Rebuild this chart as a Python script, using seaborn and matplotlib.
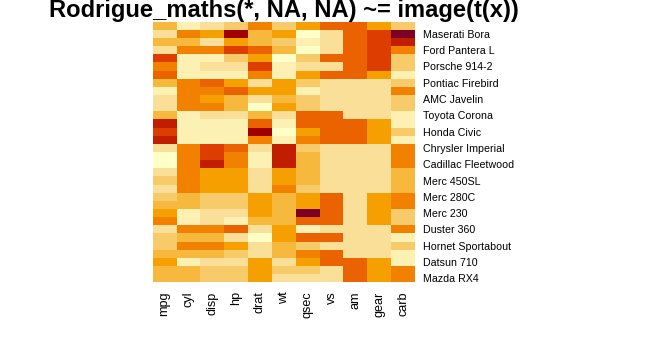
import pandas as pd
import seaborn as sns
import matplotlib.pyplot as plt
import matplotlib.transforms as mtransforms
from matplotlib.colors import ListedColormap

# Cars as they appear from the top of the image to the bottom
cars = ["Volvo 142E", "Maserati Bora", "Ferrari Dino", "Ford Pantera L", "Lotus Europa",
        "Porsche 914-2", "Fiat X1-9", "Pontiac Firebird", "Camaro Z28", "AMC Javelin",
        "Dodge Challenger", "Toyota Corona", "Toyota Corolla", "Honda Civic", "Fiat 128",
        "Chrysler Imperial", "Lincoln Continental", "Cadillac Fleetwood", "Merc 450SLC",
        "Merc 450SL", "Merc 450SE", "Merc 280C", "Merc 280", "Merc 230", "Merc 240D",
        "Duster 360", "Valiant", "Hornet Sportabout", "Hornet 4 Drive", "Datsun 710",
        "Mazda RX4 Wag", "Mazda RX4"]

variables = ["mpg", "cyl", "disp", "hp", "drat", "wt", "qsec", "vs", "am", "gear", "carb"]

# Colour level of every cell (0 = lightest yellow, 11 = darkest red), same row order as cars
mpg  = [4, 2, 4, 2, 8, 6, 7, 4, 1, 2, 2, 4, 9, 8, 9, 2, 0, 0, 2, 3, 2, 3, 4, 5, 6, 2, 3, 3, 4, 5, 4, 4]
cyl  = [1, 6, 4, 6, 1, 1, 1, 6, 6, 6, 6, 1, 1, 1, 1, 6, 6, 6, 6, 6, 6, 4, 4, 1, 1, 6, 4, 6, 4, 1, 4, 4]
disp = [2, 5, 2, 6, 1, 2, 1, 7, 6, 5, 6, 2, 1, 1, 1, 8, 8, 9, 5, 5, 5, 3, 3, 2, 2, 6, 4, 6, 4, 2, 3, 3]
hp   = [3, 10, 5, 8, 3, 2, 1, 5, 7, 4, 4, 2, 1, 1, 1, 7, 6, 6, 5, 5, 5, 3, 3, 2, 1, 7, 2, 5, 3, 2, 3, 3]
drat = [6, 4, 4, 7, 5, 8, 6, 2, 5, 2, 0, 4, 7, 10, 6, 2, 1, 1, 2, 2, 2, 5, 5, 5, 4, 2, 0, 2, 2, 5, 5, 5]
wt   = [3, 5, 3, 4, 0, 1, 1, 5, 5, 4, 5, 2, 1, 0, 1, 9, 9, 9, 5, 5, 6, 4, 4, 4, 4, 5, 5, 4, 4, 2, 3, 2]
qsec = [5, 0, 1, 0, 3, 2, 5, 3, 1, 3, 3, 7, 7, 5, 6, 3, 4, 4, 4, 4, 3, 5, 5, 11, 7, 1, 7, 3, 6, 5, 3, 2]
vs   = [7, 2, 2, 2, 7, 2, 7, 2, 2, 2, 2, 7, 7, 7, 7, 2, 2, 2, 2, 2, 2, 7, 7, 7, 7, 2, 7, 2, 7, 7, 2, 2]
am   = [7, 7, 7, 7, 7, 7, 7, 2, 2, 2, 2, 2, 7, 7, 7, 2, 2, 2, 2, 2, 2, 2, 2, 2, 2, 2, 2, 2, 2, 7, 7, 7]
gear = [5, 8, 8, 8, 8, 8, 5, 2, 2, 2, 2, 2, 5, 5, 5, 2, 2, 2, 2, 2, 2, 5, 5, 5, 5, 2, 2, 2, 2, 5, 5, 5]
carb = [3, 11, 9, 6, 3, 3, 1, 3, 6, 3, 3, 1, 1, 3, 1, 6, 6, 6, 4, 4, 4, 6, 6, 3, 3, 6, 1, 3, 1, 1, 6, 6]

# Only every other car gets a label on the right
labelled = ["Maserati Bora", "Ford Pantera L", "Porsche 914-2", "Pontiac Firebird",
            "AMC Javelin", "Toyota Corona", "Honda Civic", "Chrysler Imperial",
            "Cadillac Fleetwood", "Merc 450SL", "Merc 280C", "Merc 230", "Duster 360",
            "Hornet Sportabout", "Datsun 710", "Mazda RX4"]

title = "Rodrigue_maths(*, NA, NA) ~= image(t(x))"

# YlOrRd style palette, light to dark
palette = ["#FFFFC8", "#FCF0B3", "#F9DF98", "#F7CB69", "#F6B83D", "#F5A000",
           "#F28100", "#EB6200", "#DD3E00", "#C11D00", "#A00000", "#7D0025"]

grid = pd.DataFrame({"mpg": mpg, "cyl": cyl, "disp": disp, "hp": hp, "drat": drat,
                     "wt": wt, "qsec": qsec, "vs": vs, "am": am, "gear": gear,
                     "carb": carb}, index=cars)[variables]

plt.rcParams['font.family'] = ['Liberation Sans', 'DejaVu Sans']

fig = plt.figure(figsize=(6.45, 3.63), dpi=100)
ax = fig.add_axes([0.2367, 0.2223, 0.4067, 0.7179])

sns.heatmap(grid, cmap=ListedColormap(palette), vmin=-0.5, vmax=11.5,
            cbar=False, linewidths=0, ax=ax)

# Column names under the cells, rotated (R puts them a little right of centre)
ax.set_xticks([i + 0.5 for i in range(len(variables))])
ax.set_xticklabels(variables, rotation=90, fontsize=9.1, color="black")
shift = mtransforms.ScaledTranslation(4.5 / 100, 0, fig.dpi_scale_trans)
for lab in ax.get_xticklabels():
    lab.set_transform(lab.get_transform() + shift)

# Car names on the right side
ax.yaxis.tick_right()
rows = [cars.index(c) + 0.5 for c in labelled]
ax.set_yticks(rows)
ax.set_yticklabels(labelled, rotation=0, fontsize=7.7, color="black")
ax.tick_params(axis="x", length=0, pad=6.5)
ax.tick_params(axis="y", length=0, pad=6)
ax.set_xlabel("")
ax.set_ylabel("")

fig.text(49 / 645, 1 - 17.3 / 363, title, fontsize=17.1, fontweight="bold",
         ha="left", va="baseline")

plt.savefig("out.png", dpi=100)
